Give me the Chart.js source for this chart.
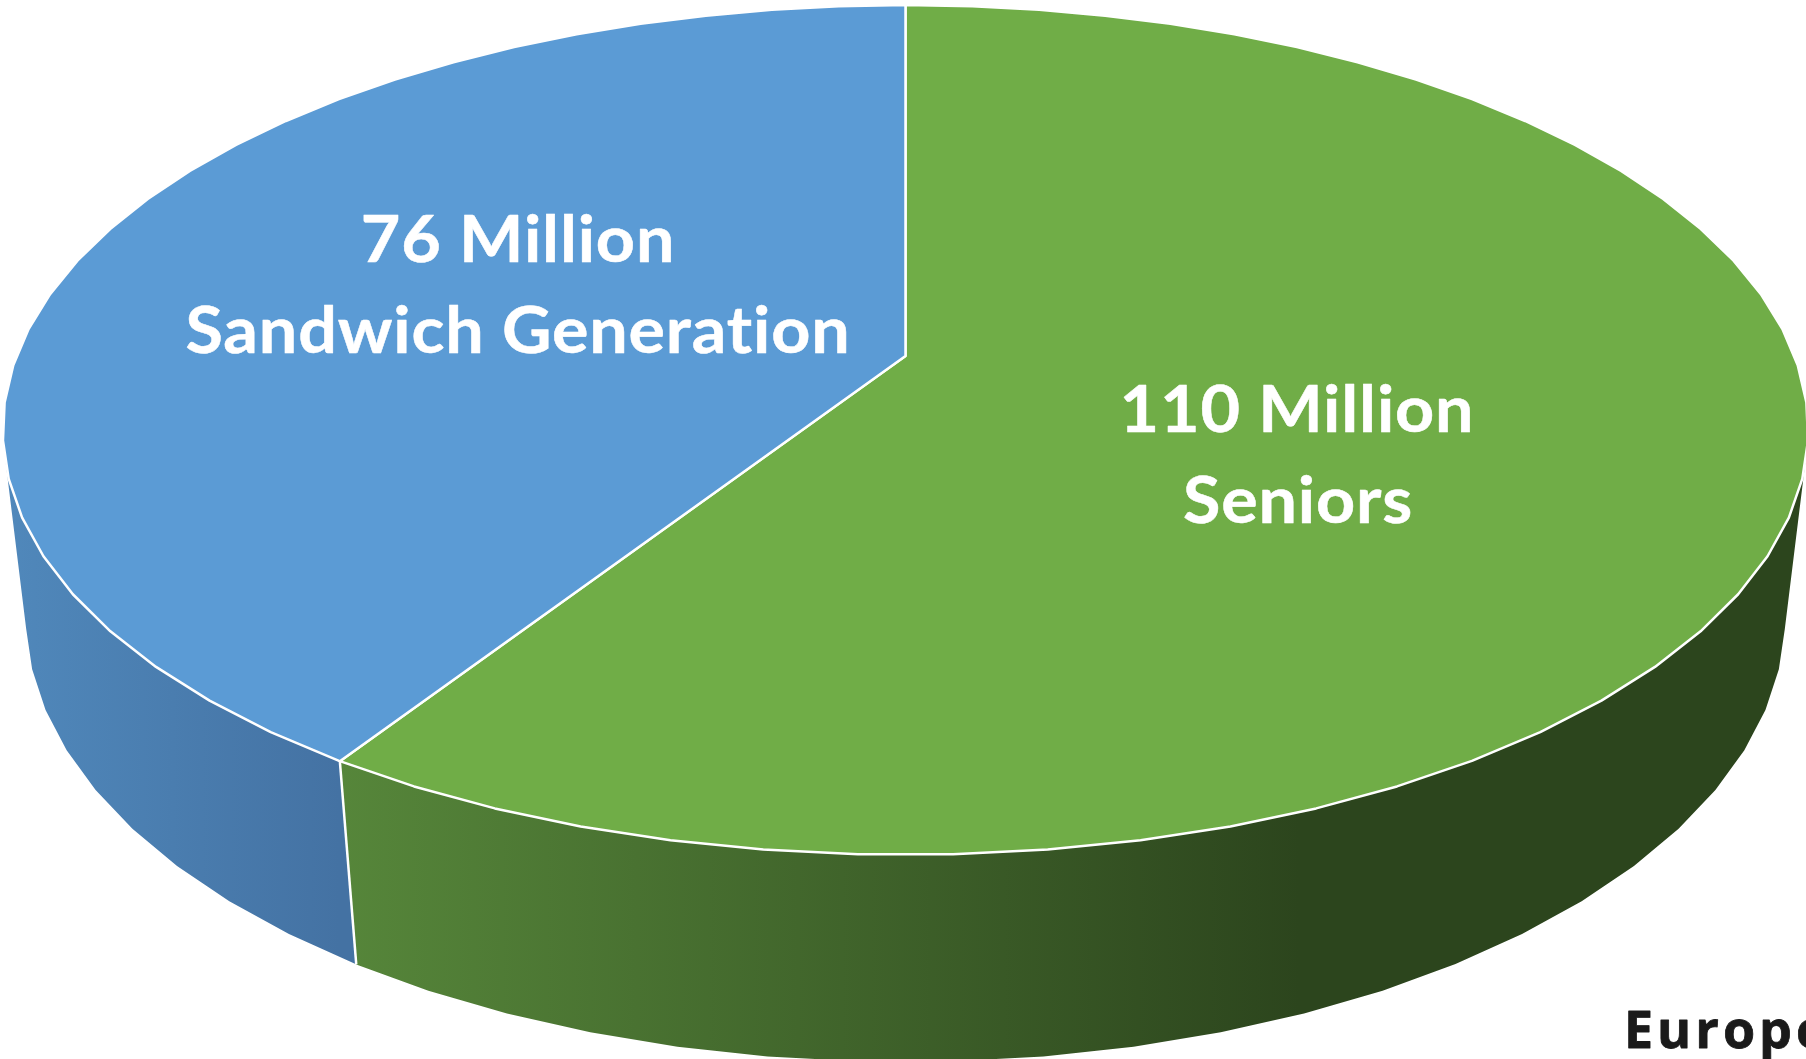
<!DOCTYPE html>
<html lang="en">
<head>
  <meta charset="UTF-8">
  <title>Seniors and Sandwich Generation</title>
  <script src="https://cdn.jsdelivr.net/npm/chart.js"></script>
  <style>
    html, body { margin: 0; padding: 0; background: #fff; overflow: hidden; }
    canvas { display: block; }
  </style>
</head>
<body>
  <canvas id="pie" width="1806" height="1059"></canvas>

  <script>
    const categories = ['Seniors', 'Sandwich Generation'];
    const millions = [110, 76];
    const topColors = ['#70AD47', '#5B9BD5'];
    const wallColors = [['#56863A', '#2C451D'], ['#5088BB', '#4472A3']];
    const footnote = 'Europe';

    // perspective of the disc: apex position, axes and foreshortening
    const apexX = 905.5, apexY = 356;
    const axisX = 889, axisY = 412, tilt = 0.1742;
    // the lower rim is the same disc lowered and pushed a little further away
    const wallDrop = 189, wallDepth = 0.0255;
    const facet = 2 * Math.PI / 71;

    function rimTop(a) {
      const w = 1 - tilt * Math.sin(a);
      return [apexX + axisX * Math.cos(a) / w, apexY + axisY * Math.sin(a) / w];
    }

    function rimBottom(a) {
      const w = 1 - tilt * Math.sin(a) + wallDepth;
      return [apexX + axisX * Math.cos(a) / w, apexY + (axisY * Math.sin(a) + wallDrop) / w];
    }

    // the original was tessellated, so keep the same flat facets
    function facetAngles(start, end) {
      const angles = [start];
      const front = Math.PI / 2 + facet / 2;
      let n = Math.ceil((start - front) / facet + 1e-6);
      while (front + n * facet < end - 1e-6) {
        angles.push(front + n * facet);
        n++;
      }
      angles.push(end);
      return angles;
    }

    // all quads wound the same way so that one fill gives their union without seams
    function addQuad(ctx, q) {
      let area = 0;
      q.forEach((p, n) => {
        const r = q[(n + 1) % 4];
        area += p[0] * r[1] - r[0] * p[1];
      });
      const pts = area < 0 ? q.slice().reverse() : q;
      pts.forEach((p, n) => n ? ctx.lineTo(p[0], p[1]) : ctx.moveTo(p[0], p[1]));
      ctx.closePath();
    }

    function drawLabel(ctx, text, x, y) {
      ctx.save();
      ctx.translate(x, y);
      ctx.scale(1.05, 1);
      ctx.strokeText(text, 0, 0);
      ctx.fillText(text, 0, 0);
      ctx.restore();
    }

    const pie3d = {
      id: 'pie3d',
      beforeDatasetsDraw(chart) {
        const ctx = chart.ctx;
        const arcs = chart.getDatasetMeta(0).data;
        ctx.save();
        ctx.lineJoin = 'round';

        // side walls
        arcs.forEach((arc, i) => {
          const angles = facetAngles(arc.startAngle, arc.endAngle);
          const x0 = i === 0 ? rimTop(arc.endAngle)[0] : 5;
          const x1 = i === 0 ? 1300 : rimTop(arc.startAngle)[0];
          const grad = ctx.createLinearGradient(x0, 0, x1, 0);
          grad.addColorStop(0, wallColors[i][0]);
          grad.addColorStop(1, wallColors[i][1]);
          ctx.fillStyle = grad;
          ctx.beginPath();
          for (let k = 0; k < angles.length - 1; k++) {
            addQuad(ctx, [rimTop(angles[k]), rimTop(angles[k + 1]), rimBottom(angles[k + 1]), rimBottom(angles[k])]);
          }
          ctx.fill('nonzero');
        });

        // divider between the two walls
        ctx.strokeStyle = '#fff';
        ctx.lineWidth = 2.5;
        const cut = rimTop(arcs[0].endAngle), cutLow = rimBottom(arcs[0].endAngle);
        ctx.beginPath();
        ctx.moveTo(cut[0], cut[1]);
        ctx.lineTo(cutLow[0], cutLow[1]);
        ctx.stroke();

        // top faces
        arcs.forEach((arc, i) => {
          ctx.beginPath();
          ctx.moveTo(apexX, apexY);
          facetAngles(arc.startAngle, arc.endAngle).forEach(a => {
            const p = rimTop(a);
            ctx.lineTo(p[0], p[1]);
          });
          ctx.closePath();
          ctx.fillStyle = topColors[i];
          ctx.fill();
          ctx.stroke();
        });
        ctx.restore();
        return false;
      },
      afterDraw(chart) {
        const ctx = chart.ctx;
        ctx.save();
        ctx.fillStyle = '#fff';
        ctx.strokeStyle = '#fff';
        ctx.lineWidth = 0.5;
        ctx.lineJoin = 'round';
        ctx.textAlign = 'center';
        ctx.textBaseline = 'alphabetic';
        ctx.font = 'bold 65px Lato, Carlito, sans-serif';
        ctx.letterSpacing = '0.8px';
        drawLabel(ctx, millions[0] + ' Million', 1297, 432);
        drawLabel(ctx, categories[0], 1298, 523);
        drawLabel(ctx, millions[1] + ' Million', 518, 262);
        drawLabel(ctx, categories[1], 518, 353);

        ctx.fillStyle = '#1A1A1A';
        ctx.strokeStyle = '#1A1A1A';
        ctx.lineWidth = 0.8;
        ctx.textAlign = 'left';
        ctx.font = 'bold 52px "Open Sans", sans-serif';
        ctx.letterSpacing = '4px';
        ctx.strokeText(footnote, 1624, 1048);
        ctx.fillText(footnote, 1624, 1048);
        ctx.restore();
      }
    };

    new Chart(document.getElementById('pie'), {
      type: 'pie',
      data: {
        labels: categories,
        datasets: [{ data: millions, backgroundColor: topColors, borderColor: '#fff' }]
      },
      options: {
        responsive: false,
        animation: false,
        devicePixelRatio: 1,
        plugins: { legend: { display: false }, tooltip: { enabled: false } }
      },
      plugins: [pie3d]
    });
  </script>
</body>
</html>
